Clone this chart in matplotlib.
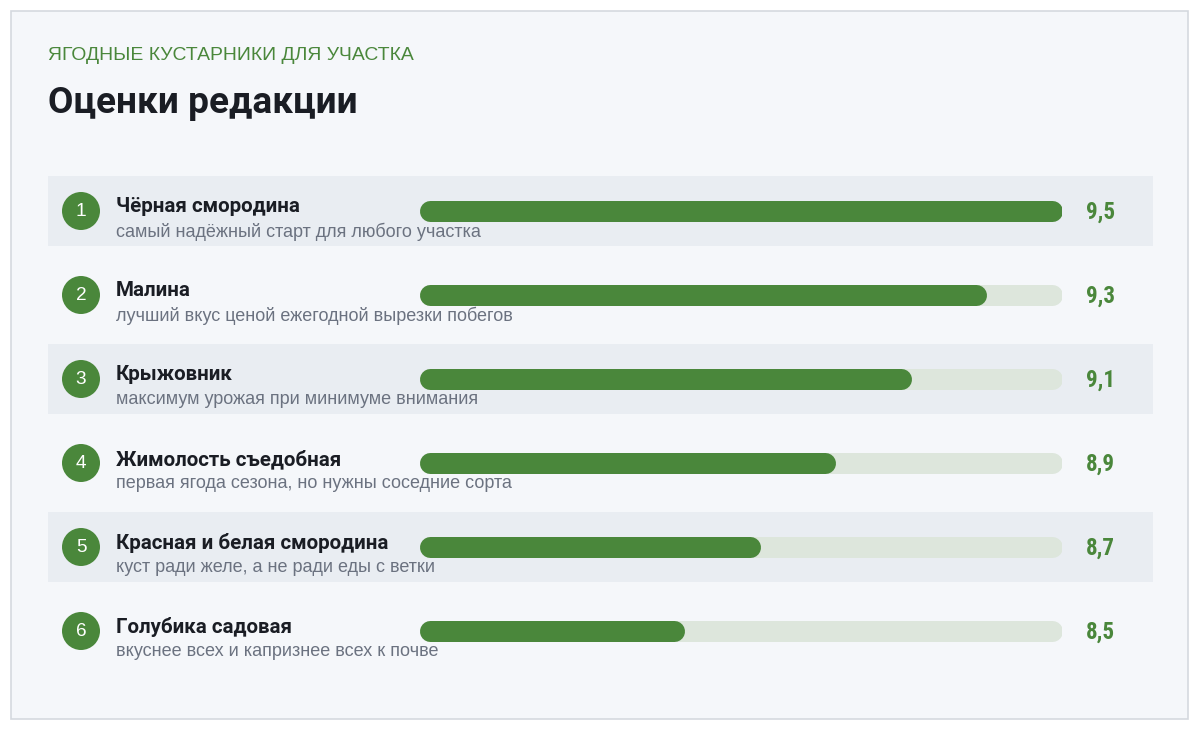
import matplotlib
matplotlib.use("Agg")
import matplotlib.pyplot as plt
from matplotlib.patches import Rectangle, Circle

kicker = "ЯГОДНЫЕ КУСТАРНИКИ ДЛЯ УЧАСТКА"
title = "Оценки редакции"
names = ["Чёрная смородина", "Малина", "Крыжовник", "Жимолость съедобная",
         "Красная и белая смородина", "Голубика садовая"]
notes = ["самый надёжный старт для любого участка",
         "лучший вкус ценой ежегодной вырезки побегов",
         "максимум урожая при минимуме внимания",
         "первая ягода сезона, но нужны соседние сорта",
         "куст ради желе, а не ради еды с ветки",
         "вкуснее всех и капризнее всех к почве"]
scores = [9.5, 9.3, 9.1, 8.9, 8.7, 8.5]
labels = ["9,5", "9,3", "9,1", "8,9", "8,7", "8,5"]

W, H = 1200, 731
GREEN = "#4a873b"
TRACK = "#dde6dc"
pt = 0.72
plt.rcParams['font.family'] = ['Roboto', 'DejaVu Sans']
ARIAL = ['Liberation Sans', 'DejaVu Sans']

fig = plt.figure(figsize=(12, 7.31), dpi=100)
fig.patch.set_facecolor("white")
bg = fig.add_axes([0, 0, 1, 1])
bg.set_xlim(0, W); bg.set_ylim(H, 0); bg.axis("off")
bg.add_patch(Rectangle((11, 11), 1177, 708, facecolor="#f5f7fa", edgecolor="#d5d9df", lw=1.2))
bg.text(48, 55, kicker, fontsize=19.4*pt, color=GREEN, va="center", ha="left", family=ARIAL)
bg.text(48, 103, title, fontsize=37*pt, color="#1a1d24", weight="bold", va="center", ha="left")

y0, dy = 211, 84
for i, (n, note, lab) in enumerate(zip(names, notes, labels)):
    yc = y0 + i*dy
    if i % 2 == 0:
        bg.add_patch(Rectangle((48, yc-35), 1105, 70, facecolor="#e9edf2", edgecolor="none"))
    bg.add_patch(Circle((81, yc), 19, facecolor=GREEN, edgecolor="none"))
    bg.text(81, yc+1, str(i+1), color="white", fontsize=19*pt, ha="center", va="center", family=ARIAL)
    bg.text(116, yc-4, n, fontsize=20.5*pt, weight="bold", color="#1a1d24", ha="left", va="center")
    bg.text(116, yc+21, note, fontsize=18*pt, color="#6b7280", ha="left", va="center", family=ARIAL)
    bg.text(1086, yc+1, lab, fontsize=23*pt, weight="bold", color=GREEN, ha="left", va="center",
            family=['Roboto Condensed', 'Liberation Sans Narrow', 'Roboto'])

# bars axes: x 420..1062 px, value 7.8..9.5
xmin, xmax = 7.8, 9.5
ax = fig.add_axes([420/W, 0, (1062-420)/W, 1])
ax.set_xlim(xmin, xmax); ax.set_ylim(H, 0); ax.axis("off")
ax.patch.set_alpha(0)
r = 10 * (xmax - xmin) / (1062 - 420)
lw = 21 * pt
for i, s in enumerate(scores):
    yc = y0 + i*dy
    ax.plot([xmin + r, xmax - r], [yc, yc], color=TRACK, lw=lw, solid_capstyle="round")
    ax.plot([xmin + r, s - r], [yc, yc], color=GREEN, lw=lw, solid_capstyle="round")

fig.savefig("out.png", dpi=100, facecolor="white")
